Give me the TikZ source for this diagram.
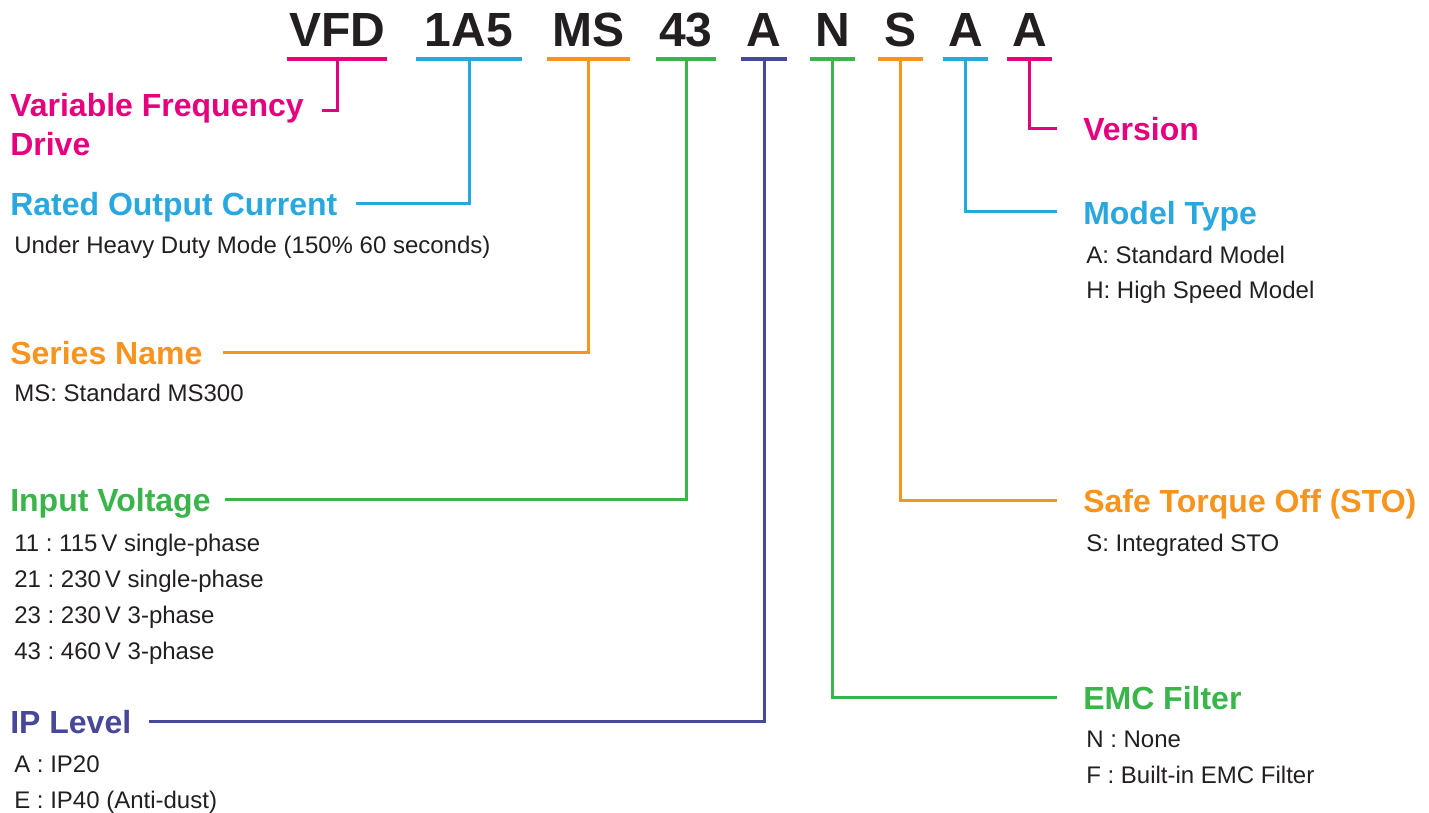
\documentclass[tikz,border=0pt]{standalone}
\usepackage{fontspec}
\setmainfont{Liberation Sans}
\frenchspacing

\definecolor{vfdpink}{RGB}{230,0,126}
\definecolor{vfdblue}{RGB}{41,168,224}
\definecolor{vfdorange}{RGB}{247,148,30}
\definecolor{vfdgreen}{RGB}{57,181,74}
\definecolor{vfdpurple}{RGB}{72,72,155}
\definecolor{vfdtext}{RGB}{35,31,32}

\tikzset{
  code/.style={font=\bfseries\fontsize{36}{36}\selectfont, text=vfdtext,
    anchor=base, inner xsep=0pt, inner ysep=9pt, text depth=0pt,
    minimum width=#1},
  head/.style={font=\bfseries\fontsize{24}{24}\selectfont, text=#1,
    anchor=west, inner sep=0pt, text height=18pt, text depth=0pt},
  desc/.style={font=\fontsize{18}{18}\selectfont, text=vfdtext,
    anchor=base west, inner sep=0pt},
  uline/.style={draw=#1, line width=3pt},
  link/.style={draw=#1, line width=2.25pt},
}

\begin{document}
\begin{tikzpicture}[x=0.75pt, y=-0.75pt]
  \useasboundingbox (0,0) rectangle (1429,813);

  % model code
  \node[code=74.25pt] (vfd) at (337, 47) {VFD};
  \node[code=79.5pt] (amp) at (469, 47) {1A5};
  \node[code=62.25pt] (ser) at (588.5, 47) {MS};
  \node[code=45pt] (volt) at (686, 47) {43};
  \node[code=34.5pt] (ip) at (764, 47) {A};
  \node[code=33.75pt] (emc) at (832.5, 47) {N};
  \node[code=33.75pt] (sto) at (900.5, 47) {S};
  \node[code=33.75pt] (mod) at (965.5, 47) {A};
  \node[code=33.75pt] (ver) at (1029.5, 47) {A};

  \draw[uline=vfdpink] (vfd.south west) -- (vfd.south east);
  \draw[uline=vfdblue] (amp.south west) -- (amp.south east);
  \draw[uline=vfdorange] (ser.south west) -- (ser.south east);
  \draw[uline=vfdgreen] (volt.south west) -- (volt.south east);
  \draw[uline=vfdpurple] (ip.south west) -- (ip.south east);
  \draw[uline=vfdgreen] (emc.south west) -- (emc.south east);
  \draw[uline=vfdorange] (sto.south west) -- (sto.south east);
  \draw[uline=vfdblue] (mod.south west) -- (mod.south east);
  \draw[uline=vfdpink] (ver.south west) -- (ver.south east);

  % left side
  \node[head=vfdpink] (vfdhead) at (10, 105) {Variable Frequency};
  \node[head=vfdpink] (drivehead) at (10, 144) {Drive};
  \node[head=vfdblue] (amphead) at (10, 204) {Rated Output Current};
  \node[desc] (amp1) at (14, 254) {Under Heavy Duty Mode (150\% 60 seconds)};
  \node[head=vfdorange] (serhead) at (10, 352) {Series Name};
  \node[desc] (ser1) at (14, 401) {MS: Standard MS300};
  \node[head=vfdgreen] (volthead) at (10, 499) {Input Voltage};
  \foreach \t [count=\i] in {11 : 115\,V single-phase, 21 : 230\,V single-phase,
    23 : 230\,V 3-phase, 43 : 460\,V 3-phase}
  \node[desc] (volt\i) at (14, 515+36*\i) {\t};
  \node[head=vfdpurple] (iphead) at (10, 721) {IP Level};
  \foreach \t [count=\i] in {A : IP20, E : IP40 (Anti-dust)}
  \node[desc] (ip\i) at (14, 736+36*\i) {\t};

  % right side
  \node[head=vfdpink] (verhead) at (1083, 129) {Version};
  \node[head=vfdblue] (modhead) at (1083, 212) {Model Type};
  \foreach \t [count=\i] in {A: Standard Model, H: High Speed Model}
  \node[desc] (mod\i) at (1086, 227+36*\i) {\t};
  \node[head=vfdorange] (stohead) at (1083, 500) {Safe Torque Off (STO)};
  \node[desc] (sto1) at (1086, 551) {S: Integrated STO};
  \node[head=vfdgreen] (emchead) at (1083, 697) {EMC Filter};
  \foreach \t [count=\i] in {N : None, F : Built-in EMC Filter}
  \node[desc] (emc\i) at (1086, 711+36*\i) {\t};

  % connectors
  \draw[link=vfdpink] (vfd.south) |- ([xshift=13.5pt,yshift=-4.5pt]vfdhead.east);
  \draw[link=vfdblue] (amp.south) |- ([xshift=13.5pt]amphead.east);
  \draw[link=vfdorange] (ser.south) |- ([xshift=15pt]serhead.east);
  \draw[link=vfdgreen] (volt.south) |- ([xshift=10.5pt]volthead.east);
  \draw[link=vfdpurple] (ip.south) |- ([xshift=13.5pt]iphead.east);
  \draw[link=vfdgreen] (emc.south) |- ([xshift=-19.5pt]emchead.west);
  \draw[link=vfdorange] (sto.south) |- ([xshift=-19.5pt]stohead.west);
  \draw[link=vfdblue] (mod.south) |- ([xshift=-19.5pt]modhead.west);
  \draw[link=vfdpink] (ver.south) |- ([xshift=-19.5pt]verhead.west);
\end{tikzpicture}
\end{document}
